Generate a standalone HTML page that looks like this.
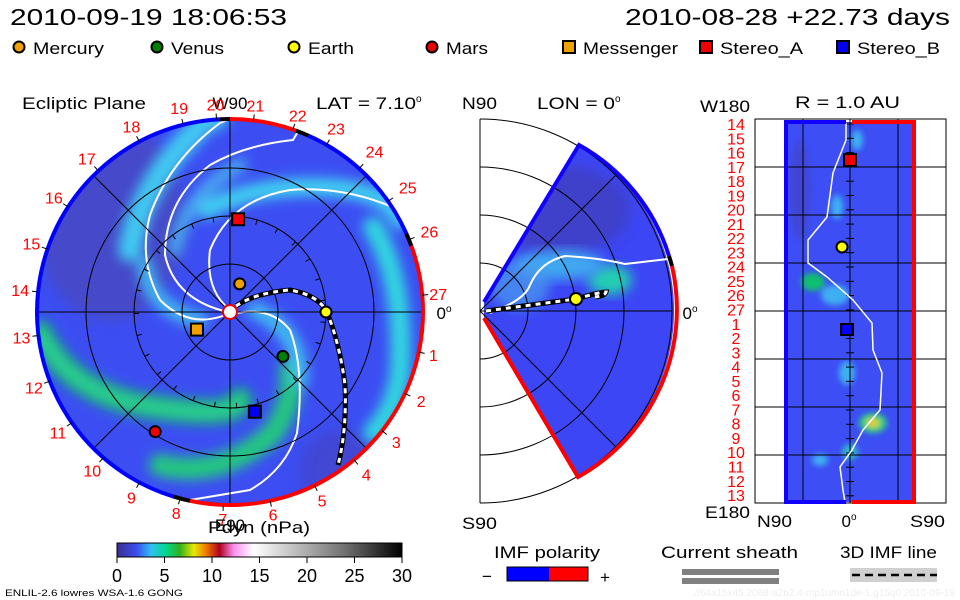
<!DOCTYPE html>
<html><head><meta charset="utf-8"><style>
html,body{margin:0;padding:0;background:#fff;}
svg{display:block;font-family:"Liberation Sans",sans-serif;}
</style></head><body>
<svg id="s" width="960" height="600" viewBox="0 0 960 600">
<defs>
<filter id="bl" x="-20%" y="-20%" width="140%" height="140%"><feGaussianBlur stdDeviation="6"/></filter>
<filter id="bl2" x="-50%" y="-50%" width="200%" height="200%"><feGaussianBlur stdDeviation="3"/></filter>
<clipPath id="cc"><circle cx="230" cy="312" r="193"/></clipPath>
<clipPath id="cw"><path d="M484,302 L579,145 A192,192 0 0 1 578,477 L484,318 Z"/></clipPath>
<clipPath id="cr"><rect x="786" y="122" width="129" height="380"/></clipPath>
<linearGradient id="cb" x1="0" x2="1" y1="0" y2="0">
<stop offset="0" stop-color="#3a2e90"/><stop offset="0.07" stop-color="#3c50f0"/><stop offset="0.12" stop-color="#30c0f0"/>
<stop offset="0.17" stop-color="#00d890"/><stop offset="0.22" stop-color="#30b020"/><stop offset="0.27" stop-color="#e8e800"/>
<stop offset="0.31" stop-color="#f08000"/><stop offset="0.36" stop-color="#b00020"/><stop offset="0.41" stop-color="#f890f0"/>
<stop offset="0.48" stop-color="#ffffff"/><stop offset="0.62" stop-color="#c0c0c0"/><stop offset="0.8" stop-color="#707070"/><stop offset="1" stop-color="#000"/>
</linearGradient>
</defs>

<!-- header -->
<text x="10" y="25" font-size="23" textLength="277" lengthAdjust="spacingAndGlyphs">2010-09-19 18:06:53</text>
<text x="625" y="25" font-size="23" textLength="325" lengthAdjust="spacingAndGlyphs">2010-08-28 +22.73 days</text>
<g id="legend" font-size="17"></g>

<!-- panel titles -->
<text x="22" y="109" font-size="17" textLength="124" lengthAdjust="spacingAndGlyphs">Ecliptic Plane</text>
<text x="230" y="109" font-size="17" text-anchor="middle">W90</text>
<text x="316" y="109" font-size="17"><tspan textLength="100" lengthAdjust="spacingAndGlyphs">LAT = 7.10</tspan><tspan dy="-7" font-size="10">o</tspan></text>
<text x="462" y="109" font-size="17" textLength="35" lengthAdjust="spacingAndGlyphs">N90</text>
<text x="537" y="109" font-size="17"><tspan textLength="78" lengthAdjust="spacingAndGlyphs">LON = 0</tspan><tspan dy="-7" font-size="10">o</tspan></text>
<text x="700" y="112" font-size="17" textLength="50" lengthAdjust="spacingAndGlyphs">W180</text>
<text x="795" y="108" font-size="17" textLength="105" lengthAdjust="spacingAndGlyphs">R = 1.0 AU</text>

<!-- ecliptic panel -->
<g id="ecl">
<g clip-path="url(#cc)">
<circle cx="230" cy="312" r="195" fill="#3c4ef2"/>
<ellipse cx="110" cy="220" rx="75" ry="100" fill="#4848c0" filter="url(#bl)" opacity="0.8"/>
<ellipse cx="340" cy="470" rx="40" ry="40" fill="#4444c8" filter="url(#bl)" opacity="0.7"/>
<g fill="none" stroke-linecap="round" filter="url(#bl)">
<path d="M40,333 Q70,395 153,407 T240,400" stroke="#10c060" stroke-width="24"/>
<path d="M40,333 Q70,395 153,407 T240,400" stroke="#30d0a0" stroke-width="10"/>
<path d="M160,465 Q220,480 273,433 Q295,400 290,370" stroke="#20c880" stroke-width="22"/>
<path d="M373,227 Q405,280 400,373 Q395,410 373,433" stroke="#30d8e0" stroke-width="20"/>
<path d="M130,250 Q140,190 187,140 T215,118" stroke="#40c8f0" stroke-width="24"/>
<path d="M207,210 Q253,185 320,187 T400,220" stroke="#40d0f0" stroke-width="18"/>
<path d="M145,265 Q150,310 200,320" stroke="#40b8f0" stroke-width="16"/>
<path d="M255,310 Q300,330 300,380" stroke="#40c0f0" stroke-width="16"/>
<path d="M175,250 Q185,195 240,165" stroke="#48a8f0" stroke-width="14"/>
</g>
<g fill="none" stroke="#fff" stroke-width="2">
<path d="M228,314 Q190,330 160,300 Q138,260 150,215 Q170,160 220,123 L232,118"/>
<path d="M228,312 Q175,300 165,255 Q165,200 210,165 Q245,145 293,140 L300,128"/>
<path d="M230,310 Q205,290 210,250 Q230,200 290,190 Q350,185 410,215"/>
<path d="M232,314 Q270,305 290,330 Q305,370 297,433 Q285,470 250,490 L190,500"/>
</g>
</g>
<g id="eclgrid" fill="none" stroke="#000" stroke-width="1"></g>
<g id="eclrim" fill="none" stroke-width="4"></g>
<circle cx="230" cy="312" r="7" fill="#fff" stroke="#e00" stroke-width="2"/>
<path d="M236,306 Q255,293 290,290 Q318,295 327,312 Q340,345 345,385 Q347,430 338,465" fill="none" stroke="#000" stroke-width="5"/>
<path d="M236,306 Q255,293 290,290 Q318,295 327,312 Q340,345 345,385 Q347,430 338,465" fill="none" stroke="#fff" stroke-width="3" stroke-dasharray="5,5"/>
<g id="ecllabels" fill="#f00" font-size="16" text-anchor="middle"></g>
<g id="eclbodies"></g>
<text x="444" y="319" font-size="17" text-anchor="middle">0<tspan dy="-7" font-size="10">o</tspan></text>
</g>

<!-- meridional panel -->
<g id="mer">
<path d="M484,302 L579,145 A192,192 0 0 1 578,477 L484,318 Z" fill="#3c46f4"/>
<g clip-path="url(#cw)">
<ellipse cx="560" cy="210" rx="70" ry="45" fill="#4040c0" filter="url(#bl)" opacity="0.8"/>
<ellipse cx="610" cy="280" rx="22" ry="15" fill="#20d0b0" filter="url(#bl)"/>
<ellipse cx="560" cy="265" rx="45" ry="15" fill="#40a8f0" filter="url(#bl)"/>
<ellipse cx="520" cy="285" rx="30" ry="25" fill="#48a0f0" filter="url(#bl)" opacity="0.7"/>
</g>
<g id="mergrid" fill="none" stroke="#000" stroke-width="1"></g>
<path d="M490,313 Q525,300 530,285 Q540,262 565,256 Q600,258 625,264 L668,259" fill="none" stroke="#fff" stroke-width="2"/>
<path d="M484,302 L579,145 A192,192 0 0 1 669,256" fill="none" stroke="#10f" stroke-width="4"/>
<path d="M669,256 A192,192 0 0 1 672,266" fill="none" stroke="#000" stroke-width="4"/>
<path d="M672,266 A192,192 0 0 1 578,477 L484,318" fill="none" stroke="#f00" stroke-width="4"/>
<path d="M486,311 L576,299 Q600,292 606,292 Q605,296 595,297" fill="none" stroke="#000" stroke-width="5"/>
<path d="M486,311 L576,299 Q600,292 606,292 Q605,296 595,297" fill="none" stroke="#fff" stroke-width="3" stroke-dasharray="5,5"/>
<circle cx="576" cy="299" r="6" fill="#ff0" stroke="#000" stroke-width="2"/>
<text x="690" y="319" font-size="17" text-anchor="middle">0<tspan dy="-7" font-size="10">o</tspan></text>
<text x="462" y="529" font-size="17" textLength="35" lengthAdjust="spacingAndGlyphs">S90</text>
</g>

<!-- right panel -->
<g id="rp">
<rect x="755" y="119" width="191" height="384" fill="#fff" stroke="#000"/>
<rect x="786" y="122" width="129" height="380" fill="#3c4ef4"/>
<g clip-path="url(#cr)" filter="url(#bl2)">
<ellipse cx="813" cy="282" rx="12" ry="9" fill="#10c070"/>
<ellipse cx="835" cy="295" rx="14" ry="10" fill="#40c8f0" opacity="0.8"/>
<ellipse cx="873" cy="423" rx="14" ry="10" fill="#30d080"/>
<ellipse cx="873" cy="423" rx="6" ry="4" fill="#f0d000"/>
<ellipse cx="837" cy="207" rx="6" ry="12" fill="#40c8f0" opacity="0.8"/>
<ellipse cx="847" cy="373" rx="8" ry="12" fill="#40c8f0" opacity="0.8"/>
<ellipse cx="820" cy="460" rx="8" ry="6" fill="#40c8f0" opacity="0.8"/>
<ellipse cx="850" cy="452" rx="8" ry="8" fill="#30d0c0" opacity="0.8"/>
<ellipse cx="857" cy="140" rx="6" ry="10" fill="#40c8f0" opacity="0.8"/>
<ellipse cx="800" cy="190" rx="10" ry="50" fill="#4444c8" opacity="0.7"/>
</g>
<g id="rpgrid" stroke="#000" stroke-width="1"></g>
<path d="M846,123 L846,140 L833,173 L827,217 L808,240 L808,263 L827,277 L853,300 L872,323 L873,350 L882,373 L880,410 L863,430 L852,450 L840,467 L843,490 L845,502" fill="none" stroke="#fff" stroke-width="1.5"/>
<path d="M846,122 L786,122 L786,502 L846,502" fill="none" stroke="#10f" stroke-width="4"/>
<path d="M852,122 L914,122 L914,502 L852,502" fill="none" stroke="#f00" stroke-width="4"/>
<g id="rplabels" fill="#f00" font-size="16" text-anchor="middle"></g>
<rect x="844" y="154" width="12" height="12" fill="#e00" stroke="#000" stroke-width="2"/>
<circle cx="842" cy="247" r="5.5" fill="#ff0" stroke="#000" stroke-width="2"/>
<rect x="841" y="324" width="12" height="11" fill="#00f" stroke="#000" stroke-width="2"/>
<text x="705" y="518" font-size="17" textLength="45" lengthAdjust="spacingAndGlyphs">E180</text>
<text x="757" y="527" font-size="17" textLength="35" lengthAdjust="spacingAndGlyphs">N90</text>
<text x="849" y="527" font-size="17" text-anchor="middle">0<tspan dy="-7" font-size="10">o</tspan></text>
<text x="910" y="527" font-size="17" textLength="35" lengthAdjust="spacingAndGlyphs">S90</text>
</g>

<!-- colorbar -->
<text x="230" y="531" font-size="17" text-anchor="middle">E90</text>
<text x="208" y="533" font-size="17" textLength="102" lengthAdjust="spacingAndGlyphs">Pdyn (nPa)</text>
<rect x="117" y="543" width="285" height="14" fill="url(#cb)" stroke="#000"/>
<g id="cbticks" font-size="18" text-anchor="middle"></g>

<!-- bottom legends -->
<text x="494" y="558" font-size="17" textLength="106" lengthAdjust="spacingAndGlyphs">IMF polarity</text>
<text x="487" y="582" font-size="17" text-anchor="middle">−</text>
<rect x="507" y="567" width="42" height="14" fill="#00f"/>
<rect x="549" y="567" width="39" height="14" fill="#f00"/>
<rect x="507" y="567" width="81" height="14" fill="none" stroke="#000"/>
<text x="605" y="583" font-size="17" text-anchor="middle">+</text>
<text x="661" y="558" font-size="17" textLength="137" lengthAdjust="spacingAndGlyphs">Current sheath</text>
<rect x="682" y="569" width="97" height="6" fill="#808080"/>
<rect x="682" y="578" width="97" height="6" fill="#808080"/>
<text x="840" y="558" font-size="17" textLength="97" lengthAdjust="spacingAndGlyphs">3D IMF line</text>
<rect x="850" y="568" width="87" height="14" fill="#d0d0d0"/>
<line x1="852" y1="575" x2="937" y2="575" stroke="#000" stroke-width="2.5" stroke-dasharray="8,5"/>
<text x="5" y="596" font-size="9" textLength="178" lengthAdjust="spacingAndGlyphs">ENLIL-2.6 lowres WSA-1.6 GONG</text>
<text x="955" y="596" font-size="10" fill="#eeeeee" text-anchor="end">.//64x15x45.2068-a2b2.4-mp1umn1de-1.g15q0   2010-09-19</text>
</svg>
<script>
const NS="http://www.w3.org/2000/svg";
const legendNames=["Mercury","Venus","Earth","Mars","Messenger","Stereo_A","Stereo_B"];
const legendColors=["#f0a000","#008000","#ffff00","#f00000","#f0a000","#f00000","#0000f0"];
const legendShapes=["c","c","c","c","s","s","s"];
const legendX=[19,157,294,432,569,706,843];
const legendW=[71,53,46,42,95,83,83];
// ecliptic day labels and their angular positions (deg, screen clockwise from +x) / radius
const spokeLabels=["20","21","22","23","24","25","26","27","1","2","3","4","5","6","7","8","9","10","11","12","13","14","15","16","17","18","19"];
const spokeAngles=[-94,-83,-71,-60,-48,-35,-22,-5,12,25,38,50,64,78,92,105,118,131,145,159,173,186,199,213,227,242,256];
const spokeRadii=[208,208,208,212,216,217,215,209,208,211,211,212,210,207,207,208,210,210,210,210,210,211,210,210,210,210,210];
// bodies in ecliptic plane: radius in AU (1 AU = 96px ring) and angle (deg)
const bodyNames=["mercury","venus","earth","mars","messenger","stereo-a","stereo-b"];
const bodyR=[0.31,0.72,1.0,1.47,0.39,0.97,1.07];
const bodyAng=[-71,40,0,122,152,-85,76];
const cbTicks=[0,5,10,15,20,25,30];
const rpLabels=["14","15","16","17","18","19","20","21","22","23","24","25","26","27","1","2","3","4","5","6","7","8","9","10","11","12","13"];

function mk(tag,attrs,parent){const e=document.createElementNS(NS,tag);for(const k in attrs)e.setAttribute(k,attrs[k]);parent.appendChild(e);return e;}
const CX=230,CY=312,AU=96;
function pol(r,a){const t=a*Math.PI/180;return [CX+r*Math.cos(t),CY+r*Math.sin(t)];}

// legend
const lg=document.getElementById('legend');
legendNames.forEach((n,i)=>{
  let m;
  if(legendShapes[i]==="c") m=mk('circle',{cx:legendX[i],cy:47,r:5.5,fill:legendColors[i],stroke:'#000','stroke-width':2},lg);
  else m=mk('rect',{x:legendX[i]-6,y:41,width:12,height:12,fill:legendColors[i],stroke:'#000','stroke-width':2},lg);
  
  
  const t=mk('text',{x:legendX[i]+14,y:54,textLength:legendW[i],lengthAdjust:'spacingAndGlyphs'},lg);t.textContent=n;
  
  
});

// ecliptic grid
const eg=document.getElementById('eclgrid');
[0.5,1,1.5].forEach(k=>{const c=mk('circle',{cx:CX,cy:CY,r:k*AU},eg);
  
  });
[0,45,90,135].forEach(a=>{const p=pol(193,a),q=pol(193,a+180);
  const l=mk('line',{x1:p[0],y1:p[1],x2:q[0],y2:q[1]},eg);
  
  });
for(let a=-180;a<180;a+=13.3){const p=pol(AU,a),q=pol(AU-5,a);mk('line',{x1:p[0],y1:p[1],x2:q[0],y2:q[1]},eg);}
// rim
const rim=document.getElementById('eclrim');
const rimSeg=[[-91,-70,'#f00'],[-70,-66,'#000'],[-66,-24,'#00f'],[-24,-20,'#000'],[-20,102,'#f00'],[102,107,'#000'],[107,267,'#00f'],[267,270,'#000']];
rimSeg.forEach(s=>{const p=pol(193,s[0]),q=pol(193,s[1]);
  const large=(s[1]-s[0])>180?1:0;
  const e=mk('path',{d:`M${p[0]},${p[1]} A193,193 0 ${large} 1 ${q[0]},${q[1]}`,stroke:s[2]},rim);
  
  });
// labels
const el=document.getElementById('ecllabels');
spokeLabels.forEach((s,i)=>{const p=pol(spokeRadii[i],spokeAngles[i]);const q=pol(193,spokeAngles[i]),q2=pol(199,spokeAngles[i]);
  mk('line',{x1:q[0],y1:q[1],x2:q2[0],y2:q2[1],stroke:'#000'},el);
  const t=mk('text',{x:p[0],y:p[1]+6},el);t.textContent=s;
  
  });
// bodies
const eb=document.getElementById('eclbodies');
bodyNames.forEach((n,i)=>{const idx=legendNames.findIndex(x=>x.toLowerCase()===n.replace('-','_'));
  const p=pol(bodyR[i]*AU,bodyAng[i]);let m;
  if(legendShapes[idx]==="c") m=mk('circle',{cx:p[0],cy:p[1],r:5.5,fill:legendColors[idx],stroke:'#000','stroke-width':2},eb);
  else m=mk('rect',{x:p[0]-6,y:p[1]-6,width:12,height:12,fill:legendColors[idx],stroke:'#000','stroke-width':2},eb);
  
  });

// meridional grid
const mg=document.getElementById('mergrid');const MX=480,MY=311;
[48,96,144,192].forEach(r=>{const e=mk('path',{d:`M${MX},${MY-r} A${r},${r} 0 0 1 ${MX},${MY+r}`},mg);
  
  });
mk('line',{x1:MX,y1:119,x2:MX,y2:503},mg);
mk('line',{x1:MX,y1:MY,x2:MX+192,y2:MY},mg);
[-45,45].forEach(a=>{const t=a*Math.PI/180;mk('line',{x1:MX,y1:MY,x2:MX+192*Math.cos(t),y2:MY+192*Math.sin(t)},mg);});

// right panel grid
const rg=document.getElementById('rpgrid');
[167,215,263,311,359,407,455].forEach(y=>mk('line',{x1:755,y1:y,x2:946,y2:y},rg));
[803,850,898].forEach(x=>mk('line',{x1:x,y1:119,x2:x,y2:503},rg));
for(let y=124;y<500;y+=14.3) mk('line',{x1:846,y1:y,x2:854,y2:y},rg);
const rl=document.getElementById('rplabels');
rpLabels.forEach((s,i)=>{const t=mk('text',{x:736,y:130+i*14.27},rl);t.textContent=s;
  
  });

// colorbar ticks
const cg=document.getElementById('cbticks');
cbTicks.forEach(v=>{const x=117+v/30*285;mk('line',{x1:x,y1:557,x2:x,y2:563,stroke:'#000'},cg);
  const t=mk('text',{x:x,y:582},cg);t.textContent=v;
  
  });
</script>
</body></html>
